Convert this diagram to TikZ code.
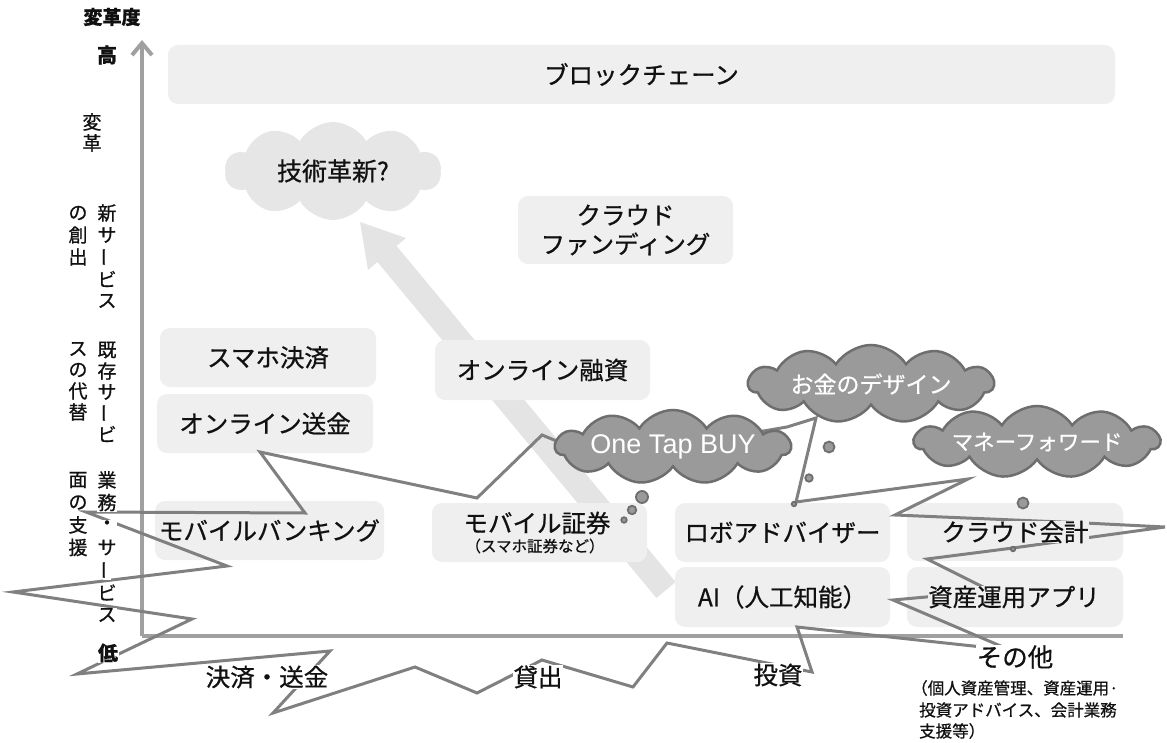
\documentclass[tikz,border=0pt]{standalone}
\usepackage{fontspec}
\usepackage{graphicx}
\setmainfont{Noto Sans CJK JP}[FakeBold=0.7]
\newfontfamily\latfont{Liberation Sans}
\usetikzlibrary{shapes.symbols,arrows.meta}
\definecolor{boxgray}{HTML}{EFEFEF}
\definecolor{lightcloud}{HTML}{E6E6E6}
\definecolor{arrowgray}{HTML}{E4E4E4}
\definecolor{axisgray}{HTML}{A0A0A0}
\definecolor{zig}{HTML}{808080}
\definecolor{darkfill}{HTML}{9A9A9A}
\definecolor{darkline}{HTML}{6E6E6E}
\definecolor{txt}{HTML}{111111}
\newcommand{\vbar}{\rotatebox[origin=c]{90}{ー}}
\begin{document}
\begin{tikzpicture}[x=1pt,y=-1pt,
  boxbg/.style={fill=boxgray, rounded corners=10pt, inner sep=0pt, text=txt, font=\fontsize{24.5}{30}\selectfont, align=center},
  lbl/.style={text=txt, font=\fontsize{24.5}{30}\selectfont, inner sep=0.5pt},
  wlbl/.style={lbl, fill=white},
  glbl/.style={lbl, fill=boxgray, inner sep=0pt},
  vchar/.style={text=txt, font=\fontsize{19}{22}\selectfont, fill=white, inner sep=0.3pt},
  subtxt/.style={text=txt, font=\fontsize{16.5}{21}\selectfont, inner sep=0pt, anchor=west},
  darkcloud/.style={cloud, cloud puffs=11, cloud puff arc=115, cloud ignores aspect, fill=darkfill, draw=darkline, line width=2.5pt, text=white, inner sep=0pt},
  bubble/.style={circle, fill=darkfill, draw=darkline, line width=1.8pt, inner sep=0pt},
  zigline/.style={draw=zig, line width=3pt},
  axisline/.style={draw=axisgray, line width=4pt},
]
\useasboundingbox (0,0) rectangle (1167,743);

% big light arrow
\fill[arrowgray] (396.6,246) -- (406,238) -- (360,222) -- (368,270) -- (377.4,262) -- (656.4,598) -- (675.6,582) -- cycle;

% boxes
\node[boxbg, minimum width=947, minimum height=59] (bc) at (641.5,74.5) {ブロックチェーン};
\node[boxbg, minimum width=216, minimum height=59] (smaho) at (268,357.5) {スマホ決済};
\node[boxbg, minimum width=216, minimum height=59] (soukin) at (265,423.5) {オンライン送金};
\node[boxbg, minimum width=229, minimum height=59] (mbank) at (269.5,530.5) {モバイルバンキング};
\node[boxbg, minimum width=215, minimum height=60] (yushi) at (542.5,370) {オンライン融資};
\node[boxbg, minimum width=215, minimum height=68] (cfund) at (625.5,230) {クラウド\\[-1pt]ファンディング};
\node[boxbg, minimum width=215, minimum height=59] (msec) at (539.5,532.5) {};
\node[lbl, inner sep=0pt] (msect) at (537,523) {モバイル証券};
\node[text=txt, font=\fontsize{15.5}{18}\selectfont, inner sep=0pt] (msecs) at (535,546) {（スマホ証券など）};
\node[boxbg, minimum width=215, minimum height=59] (robo) at (782.5,532.5) {ロボアドバイザー};
\node[boxbg, minimum width=215, minimum height=60] (ai) at (782.5,597) {AI（人工知能）};
\node[boxbg, minimum width=216, minimum height=58] (cacc) at (1015,532) {};
\node[boxbg, minimum width=216, minimum height=60] (shisan) at (1015,597) {};

% light cloud
\node[cloud, cloud puffs=10, cloud puff arc=120, cloud ignores aspect, fill=lightcloud, minimum width=216, minimum height=98, text=txt, font=\fontsize{25}{30}\selectfont] (gijutsu) at (333,171) {技術革新?};

% axes
\coordinate (org) at (142,636);
\coordinate (ytop) at (142,40);
\coordinate (xend) at (1123,636);
\draw[axisline, -{Straight Barb[length=12pt,width=20pt]}] (org) -- (ytop);
\draw[axisline] (org) -- (xend);

% zigzag line
\draw[zigline] (600,459) -- (542,435) -- (477,498) -- (260,452) -- (305,513) -- (86,512) -- (227,566) -- (13,592) -- (192,619) -- (77,674) -- (330,651) -- (273,713) -- (415,667) -- (477,693) -- (542,660) -- (633,687) -- (667,643) -- (812,672) -- (797,627) -- (1010,650) -- (893,600) -- (926,597) -- (993,592) -- (927,559) -- (1013,548) -- (1165,527) -- (1085,523) -- (895,515) -- (968,479) -- (796,502) -- (816,418) -- (787,427) -- cycle;

% bubbles
\node[bubble, minimum size=12] (b1a) at (642,497) {};
\node[bubble, minimum size=8.5] (b1b) at (632,510) {};
\node[bubble, minimum size=5.5] (b1c) at (624,520) {};
\node[bubble, minimum size=11] (b2a) at (829,447) {};
\node[bubble, minimum size=7.5] (b2b) at (809,478) {};
\node[bubble, minimum size=4.5] (b2c) at (794,504) {};
\node[bubble, minimum size=11] (b3a) at (1023,503) {};
\node[bubble, minimum size=7.5] (b3b) at (1018,527) {};
\node[bubble, minimum size=4.5] (b3c) at (1013,549) {};

% dark clouds
\node[darkcloud, minimum width=235, minimum height=74, font=\latfont\fontsize{27}{30}\selectfont] (onetap) at (673,447) {One Tap BUY};
\node[darkcloud, minimum width=245, minimum height=78, font=\fontsize{23}{28}\selectfont] (okane) at (871,384) {お金のデザイン};
\node[darkcloud, minimum width=245, minimum height=72, font=\fontsize{21.5}{26}\selectfont] (money) at (1037,442) {マネーフォワード};

% labels in boxes over lines
\node[glbl] (cacct) at (1015,532) {クラウド会計};
\node[glbl] (shisant) at (1014,597) {資産運用アプリ};

% axis labels
\node[text=txt, font=\bfseries\fontsize{19}{22}\selectfont, inner sep=0pt] (hendo) at (112,17) {変革度};
\node[text=txt, font=\bfseries\fontsize{20}{22}\selectfont, inner sep=0pt] (high) at (107,55) {高};
\node[text=txt, font=\bfseries\fontsize{20}{22}\selectfont, fill=white, inner sep=0.5pt] (low) at (108,653) {低};

\node[wlbl] (kessai) at (267,677) {決済・送金};
\node[wlbl] (kashi) at (538,677) {貸出};
\node[wlbl] (toshi) at (778,675) {投資};
\node[wlbl, font=\fontsize{25.5}{30}\selectfont] (sonota) at (1015,657) {その他};
\node[subtxt] (sub1) at (911,688) {（個人資産管理、資産運用·};
\node[subtxt] (sub2) at (919,710) {投資アドバイス、会計業務};
\node[subtxt] (sub3) at (919,731) {支援等）};

% vertical texts
\foreach \c [count=\i from 0] in {変,革} \node[vchar] (va\i) at (92,122+21*\i) {\c};
\foreach \c [count=\i from 0] in {新,サ,\vbar,ビ,ス} \node[vchar] (vbr\i) at (107,213+22*\i) {\c};
\foreach \c [count=\i from 0] in {の,創,出} \node[vchar] (vbl\i) at (78,213+22*\i) {\c};
\foreach \c [count=\i from 0] in {既,存,サ,\vbar,ビ} \node[vchar] (vcr\i) at (107,350+21*\i) {\c};
\foreach \c [count=\i from 0] in {ス,の,代,替} \node[vchar] (vcl\i) at (78,349+21*\i) {\c};
\foreach \c [count=\i from 0] in {業,務,・,サ,\vbar,ビ,ス} \node[vchar] (vdr\i) at (107,480+22.5*\i) {\c};
\foreach \c [count=\i from 0] in {面,の,支,援} \node[vchar] (vdl\i) at (78,480+22.5*\i) {\c};
\end{tikzpicture}
\end{document}
